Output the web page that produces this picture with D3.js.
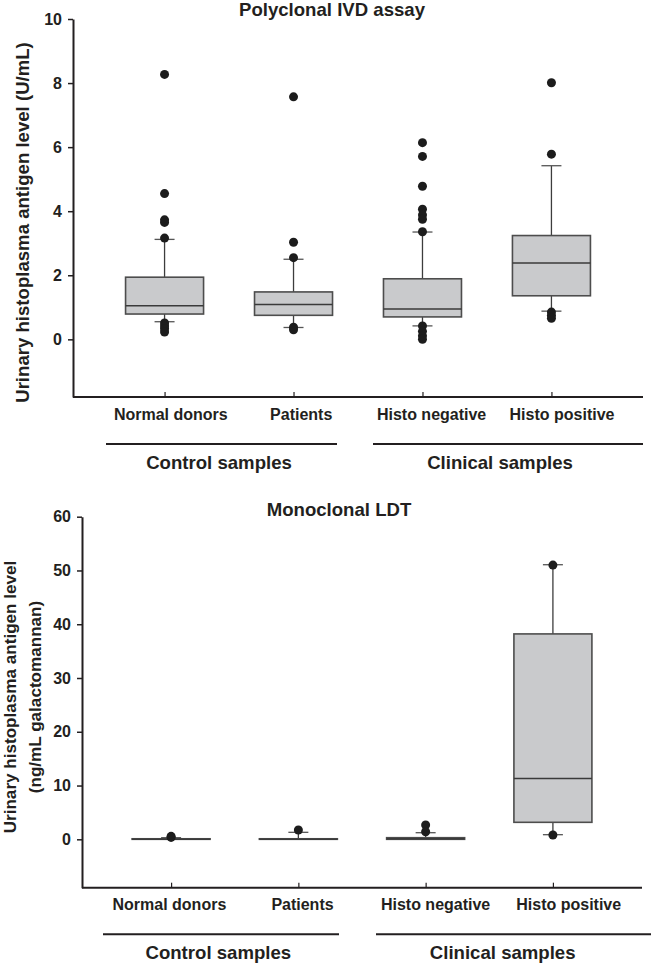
<!DOCTYPE html>
<html>
<head>
<meta charset="utf-8">
<script src="https://cdn.jsdelivr.net/npm/d3@7/dist/d3.min.js"></script>
<style>
  html, body { margin: 0; padding: 0; background: #fff; }
  svg { display: block; font-family: "Liberation Sans", Arial, Helvetica, sans-serif; }
</style>
</head>
<body>
<svg id="chart" width="651" height="966"></svg>
<script>
// ---------- data ----------
const categories = ["Normal donors", "Patients", "Histo negative", "Histo positive"];
const groupLabels = ["Control samples", "Clinical samples"];

// Polyclonal IVD assay (U/mL)
const polyTicks = [0, 2, 4, 6, 8, 10];
const polyQ1 = [0.79, 0.75, 0.70, 1.36];
const polyMedian = [1.05, 1.09, 0.95, 2.38];
const polyQ3 = [1.94, 1.48, 1.89, 3.24];
const polyLow = [0.55, 0.37, 0.42, 0.88];
const polyHigh = [3.12, 2.50, 3.35, 5.42];
const polyOutliers = [
  [8.27, 4.55, 3.73, 3.65, 3.16, 0.51, 0.42, 0.33, 0.23],
  [7.57, 3.03, 2.55, 0.38, 0.30],
  [6.14, 5.71, 4.78, 4.06, 3.88, 3.75, 3.36, 0.42, 0.25, 0.11, 0.0],
  [8.01, 5.78, 0.85, 0.75, 0.66]
];

// Monoclonal LDT (ng/mL galactomannan)
const monoTicks = [0, 10, 20, 30, 40, 50, 60];
const monoQ1 = [0, 0, 0, 3.16];
const monoMedian = [0, 0, 0.1, 11.3];
const monoQ3 = [0.1, 0.1, 0.3, 38.2];
const monoLow = [0, 0, 0, 0.86];
const monoHigh = [0.3, 1.3, 1.23, 51.07];
const monoOutliers = [
  [0.55, 0.35],
  [1.73],
  [2.66, 1.41],
  [51.0, 0.8]
];

// ---------- drawing ----------
const svg = d3.select("#chart");
const AXIS = "#231f20";
const BOXFILL = "#c9cacc";
const BOXSTROKE = "#4d4d4d";

function panel(cfg) {
  const g = svg.append("g");
  const y = d3.scaleLinear().domain(cfg.yDomain).range([cfg.bottom, cfg.top]);
  const x = d3.scalePoint().domain(categories).range([cfg.left, cfg.right]).padding(cfg.xPad);
  const xl = d3.scalePoint().domain(categories).range(cfg.labelRange);
  const boxW = 78, capW = 20;

  // title
  g.append("text").attr("x", cfg.titleX).attr("y", cfg.titleY)
    .attr("text-anchor", "middle").attr("font-weight", "bold")
    .attr("font-size", 18.6).attr("fill", AXIS).text(cfg.title);

  // y axis
  const ya = g.append("g").attr("transform", `translate(${cfg.left},0)`)
    .call(d3.axisLeft(y).tickValues(cfg.ticks).tickSize(5).tickSizeOuter(0).tickPadding(6));
  ya.select(".domain").attr("stroke", AXIS).attr("stroke-width", 2);
  ya.selectAll(".tick line").attr("stroke", AXIS).attr("stroke-width", 1.5);
  ya.selectAll(".tick text").attr("font-size", 16).attr("font-weight", "bold")
    .attr("fill", AXIS).attr("font-family", "Liberation Sans, Arial, sans-serif");

  // x axis
  const xa = g.append("g").attr("transform", `translate(0,${cfg.bottom})`)
    .call(d3.axisBottom(x).tickSize(-5).tickSizeOuter(0).tickFormat(""));
  xa.select(".domain").attr("stroke", AXIS).attr("stroke-width", 2)
    .attr("d", `M${cfg.left},0H${cfg.right}`);
  xa.selectAll(".tick line").attr("stroke", AXIS).attr("stroke-width", 1.2);

  g.selectAll("text.cat").data(categories).join("text").attr("class", "cat")
    .attr("x", d => xl(d)).attr("y", cfg.bottom + 22.5)
    .attr("text-anchor", "middle").attr("font-size", 16).attr("font-weight", "bold")
    .attr("fill", AXIS).text(d => d);

  // y title
  const yt = g.append("text").attr("transform", `translate(0,${cfg.yTitleY}) rotate(-90)`)
    .attr("text-anchor", "middle").attr("font-weight", "bold")
    .attr("font-size", cfg.yTitleSize).attr("fill", AXIS);
  cfg.yTitle.forEach((line, i) => {
    yt.append("tspan").attr("x", 0).attr("y", cfg.yTitleX[i]).text(line);
  });

  // group lines + labels
  cfg.groups.forEach((gr, i) => {
    g.append("line").attr("x1", gr[0]).attr("x2", gr[1])
      .attr("y1", cfg.groupLineY).attr("y2", cfg.groupLineY)
      .attr("stroke", AXIS).attr("stroke-width", 2);
    g.append("text").attr("x", cfg.groupLabelX[i]).attr("y", cfg.groupLineY + 24.5)
      .attr("text-anchor", "middle").attr("font-weight", "bold").attr("font-size", 18.6)
      .attr("fill", AXIS).text(groupLabels[i]);
  });

  // boxes
  categories.forEach((c, i) => {
    const cx = x(c);
    const bg = g.append("g");
    // whiskers
    bg.append("line").attr("x1", cx).attr("x2", cx)
      .attr("y1", y(cfg.q3[i])).attr("y2", y(cfg.high[i]))
      .attr("stroke", "#3d3d3d").attr("stroke-width", 1.3);
    bg.append("line").attr("x1", cx).attr("x2", cx)
      .attr("y1", y(cfg.q1[i])).attr("y2", y(cfg.low[i]))
      .attr("stroke", "#3d3d3d").attr("stroke-width", 1.3);
    [cfg.high[i], cfg.low[i]].forEach(v => {
      bg.append("line").attr("x1", cx - capW / 2).attr("x2", cx + capW / 2)
        .attr("y1", y(v)).attr("y2", y(v))
        .attr("stroke", "#555").attr("stroke-width", 1.3);
    });
    // box
    bg.append("rect").attr("x", cx - boxW / 2).attr("width", boxW)
      .attr("y", y(cfg.q3[i])).attr("height", Math.max(0.5, y(cfg.q1[i]) - y(cfg.q3[i])))
      .attr("fill", BOXFILL).attr("stroke", BOXSTROKE).attr("stroke-width", 1.6);
    bg.append("line").attr("x1", cx - boxW / 2).attr("x2", cx + boxW / 2)
      .attr("y1", y(cfg.median[i])).attr("y2", y(cfg.median[i]))
      .attr("stroke", "#3a3a3a").attr("stroke-width", 1.5);
    // outliers
    bg.selectAll("circle").data(cfg.outliers[i]).join("circle")
      .attr("cx", cx).attr("cy", d => y(d)).attr("r", 4.5).attr("fill", "#1c1c1c");
  });
}

panel({
  title: "Polyclonal IVD assay", titleX: 332, titleY: 16,
  yDomain: [-1.8, 10], top: 19, bottom: 397, left: 73, right: 643, xPad: 0.71,
  labelRange: [170.8, 562], ticks: polyTicks,
  yTitle: ["Urinary histoplasma antigen level (U/mL)"], yTitleX: [29], yTitleY: 222.5, yTitleSize: 18.6,
  groups: [[106, 337], [373, 643]], groupLineY: 444, groupLabelX: [219, 500],
  q1: polyQ1, median: polyMedian, q3: polyQ3, low: polyLow, high: polyHigh, outliers: polyOutliers
});

panel({
  title: "Monoclonal LDT", titleX: 339, titleY: 516,
  yDomain: [-9, 60], top: 516.7, bottom: 887.7, left: 82, right: 642, xPad: 0.70,
  labelRange: [169.4, 568.7], ticks: monoTicks,
  yTitle: ["Urinary histoplasma antigen level", "(ng/mL galactomannan)"], yTitleX: [15.8, 40.5],
  yTitleY: 697, yTitleSize: 17.1,
  groups: [[103, 339], [376, 651]], groupLineY: 934.3, groupLabelX: [218.3, 502.7],
  q1: monoQ1, median: monoMedian, q3: monoQ3, low: monoLow, high: monoHigh, outliers: monoOutliers
});
</script>
</body>
</html>
